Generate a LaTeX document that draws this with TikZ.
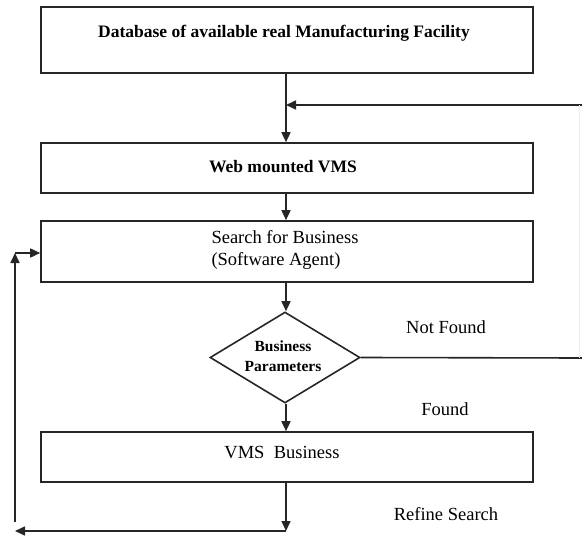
\documentclass[tikz,border=0pt]{standalone}
\usepackage{fontspec}
\setmainfont{Liberation Serif}
\usetikzlibrary{arrows.meta,shapes.geometric}
\begin{document}
\begin{tikzpicture}[x=1pt,y=-1pt,
  conn/.style={draw=black!85,line width=1.6pt},
  tip/.style={conn,-{Triangle[length=10pt,width=9pt]}},
  box/.style={draw=black!85,line width=1.6pt,rectangle,minimum width=492pt,inner sep=0pt},
  boldtxt/.style={font=\fontsize{17.5}{20}\selectfont\bfseries,inner sep=0pt},
  plaintxt/.style={font=\fontsize{18.5}{22}\selectfont,inner sep=0pt},
  decision/.style={draw=black!85,line width=1.6pt,diamond,minimum width=150pt,minimum height=91pt,inner sep=0pt,aspect=1.65}
]
\useasboundingbox (0,0) rectangle (582,538);

% process boxes
\node[box,minimum height=66pt] (db) at (287,40) {};
\node[boldtxt] (dbtext) at (284,33) {Database of available real Manufacturing Facility};

\node[box,minimum height=50pt] (web) at (287,168) {};
\node[boldtxt] (webtext) at (283,167) {Web mounted VMS};

\node[box,minimum height=61pt] (search) at (287,251.5) {};
\node[plaintxt,align=left] (searchtext) at (285,250) {Search for Business\\(Software Agent)};

\node[decision] (param) at (285,357.5) {};
\node[font=\fontsize{15.5}{20}\selectfont\bfseries,align=center,inner sep=0pt] (paramtext) at (283,356) {Business\\Parameters};

\node[box,minimum height=50pt] (vms) at (287,457) {};
\node[plaintxt] (vmstext) at (282,453) {VMS\ \ Business};

% branch labels
\node[plaintxt] (notfound) at (446,327) {Not Found};
\node[plaintxt] (found) at (445,409) {Found};
\node[plaintxt] (refine) at (446,514) {Refine Search};

% helper points
\coordinate (join) at (286,105);
\coordinate (rtop) at (582,105);
\coordinate (rbot) at (582,358);
\coordinate (bot) at (286,531);
\coordinate (lbot) at (15,531);
\coordinate (lstart) at (15,522);
\coordinate (ltop) at (15,253);

% main flow
\draw[tip] (db.south -| join) -- (web.north -| join);
\draw[tip] (rtop) -- (join);
\draw[tip] (web.south -| join) -- (search.north -| join);
\draw[tip] (search.south -| join) -- (param.north -| join);
\draw[tip] (param.south -| join) -- (vms.north -| join);
\draw[tip] (vms.south -| join) -- (bot);

% not found: back to the top (return line runs along the right edge)
\draw[conn] (param.east) -- (rbot);
\draw[draw=black!8,line width=0.8pt] ([xshift=-3pt]rbot) -- ([xshift=-3pt]rtop);

% refine search: back to the search box
\draw[tip] (bot) -- (lbot);
\draw[tip] (lstart) -- (ltop);
\draw[tip] (ltop) -- (search.west |- ltop);
\end{tikzpicture}
\end{document}
